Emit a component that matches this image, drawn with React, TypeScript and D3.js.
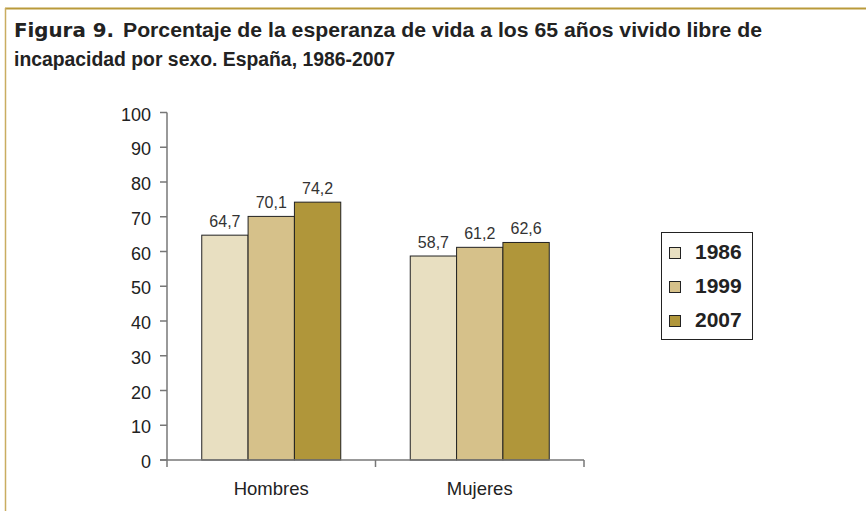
import React from "react";
import * as d3 from "d3";

const categories = ["Hombres", "Mujeres"];
const years = ["1986", "1999", "2007"];
const values1986 = [64.7, 58.7];
const values1999 = [70.1, 61.2];
const values2007 = [74.2, 62.6];
const yTicks = [0, 10, 20, 30, 40, 50, 60, 70, 80, 90, 100];
const colors = ["#e8dfc1", "#d6c18a", "#b0963a"];

export default function App() {
  const W = 866, H = 511;
  const left = 167, right = 584, top = 112.5, bottom = 460;
  const x = d3.scaleBand<string>().domain(categories).range([left, right]).paddingInner(0).paddingOuter(0);
  const y = d3.scaleLinear().domain([0, 100]).range([bottom, top]);
  const groupW = 139;
  const inner = d3.scaleBand<string>().domain(years).range([0, groupW]);
  const series = [values1986, values1999, values2007];
  const fmt = (v: number) => v.toFixed(1).replace(".", ",");
  const font = "'Liberation Sans', Arial, sans-serif";

  return (
    <svg width={W} height={H} style={{ position: "absolute", left: 0, top: 0 }} fontFamily={font}>
      <rect x={0} y={0} width={W} height={H} fill="#fff" />
      <line x1={5} y1={8.5} x2={W} y2={8.5} stroke="#b99a3a" strokeWidth={2} />
      <line x1={5.5} y1={8} x2={5.5} y2={H} stroke="#c9ad60" strokeWidth={1.5} />
      <text x={14} y={37} fontSize={20} fontWeight="bold" fill="#222">
        <tspan fontWeight={900} fontFamily="'DejaVu Sans', Arial, sans-serif" fontSize={19} textLength={100} lengthAdjust="spacingAndGlyphs">Figura 9.</tspan>
        <tspan x={123} textLength={639} lengthAdjust="spacingAndGlyphs">Porcentaje de la esperanza de vida a los 65 años vivido libre de</tspan>
      </text>
      <text x={14} y={66} fontSize={20} fontWeight="bold" fill="#222" textLength={381} lengthAdjust="spacingAndGlyphs">
        incapacidad por sexo. España, 1986-2007
      </text>

      {/* y axis */}
      <line x1={left} y1={top} x2={left} y2={bottom} stroke="#777" strokeWidth={1.5} />
      {yTicks.map((t) => (
        <g key={t}>
          <line x1={left - 7} x2={left} y1={y(t)} y2={y(t)} stroke="#777" strokeWidth={1.5} />
          <text x={left - 16} y={y(t)} dy="0.45em" textAnchor="end" fontSize={18} fill="#222">{t}</text>
        </g>
      ))}

      {/* bars */}
      {categories.map((c, ci) => {
        const gx = (x(c) as number) + (x.bandwidth() - groupW) / 2;
        return (
          <g key={c}>
            {years.map((yr, si) => {
              const v = series[si][ci];
              const bx = gx + (inner(yr) as number);
              return (
                <g key={yr}>
                  <rect x={bx} y={y(v)} width={inner.bandwidth()} height={bottom - y(v)} fill={colors[si]} stroke="#222" strokeWidth={1} />
                  <text x={bx + inner.bandwidth() / 2} y={y(v) - 8} textAnchor="middle" fontSize={16} fill="#333">{fmt(v)}</text>
                </g>
              );
            })}
            <text x={(x(c) as number) + x.bandwidth() / 2} y={495} textAnchor="middle" fontSize={18.5} fill="#222">{c}</text>
          </g>
        );
      })}

      {/* x axis */}
      <line x1={left - 7} x2={right} y1={bottom} y2={bottom} stroke="#777" strokeWidth={1.5} />
      {[left, left + x.bandwidth(), right].map((t, i) => (
        <line key={i} x1={t} x2={t} y1={bottom} y2={bottom + 7} stroke="#777" strokeWidth={1.5} />
      ))}

      {/* legend */}
      <rect x={661.5} y={232.5} width={91} height={107} fill="#fff" stroke="#222" strokeWidth={1} />
      {years.map((yr, i) => (
        <g key={yr}>
          <rect x={669.5} y={247.5 + i * 34} width={11} height={11} fill={colors[i]} stroke="#222" strokeWidth={1} />
          <text x={695} y={259 + i * 34} fontSize={21} fontWeight="bold" fill="#222">{yr}</text>
        </g>
      ))}
    </svg>
  );
}
